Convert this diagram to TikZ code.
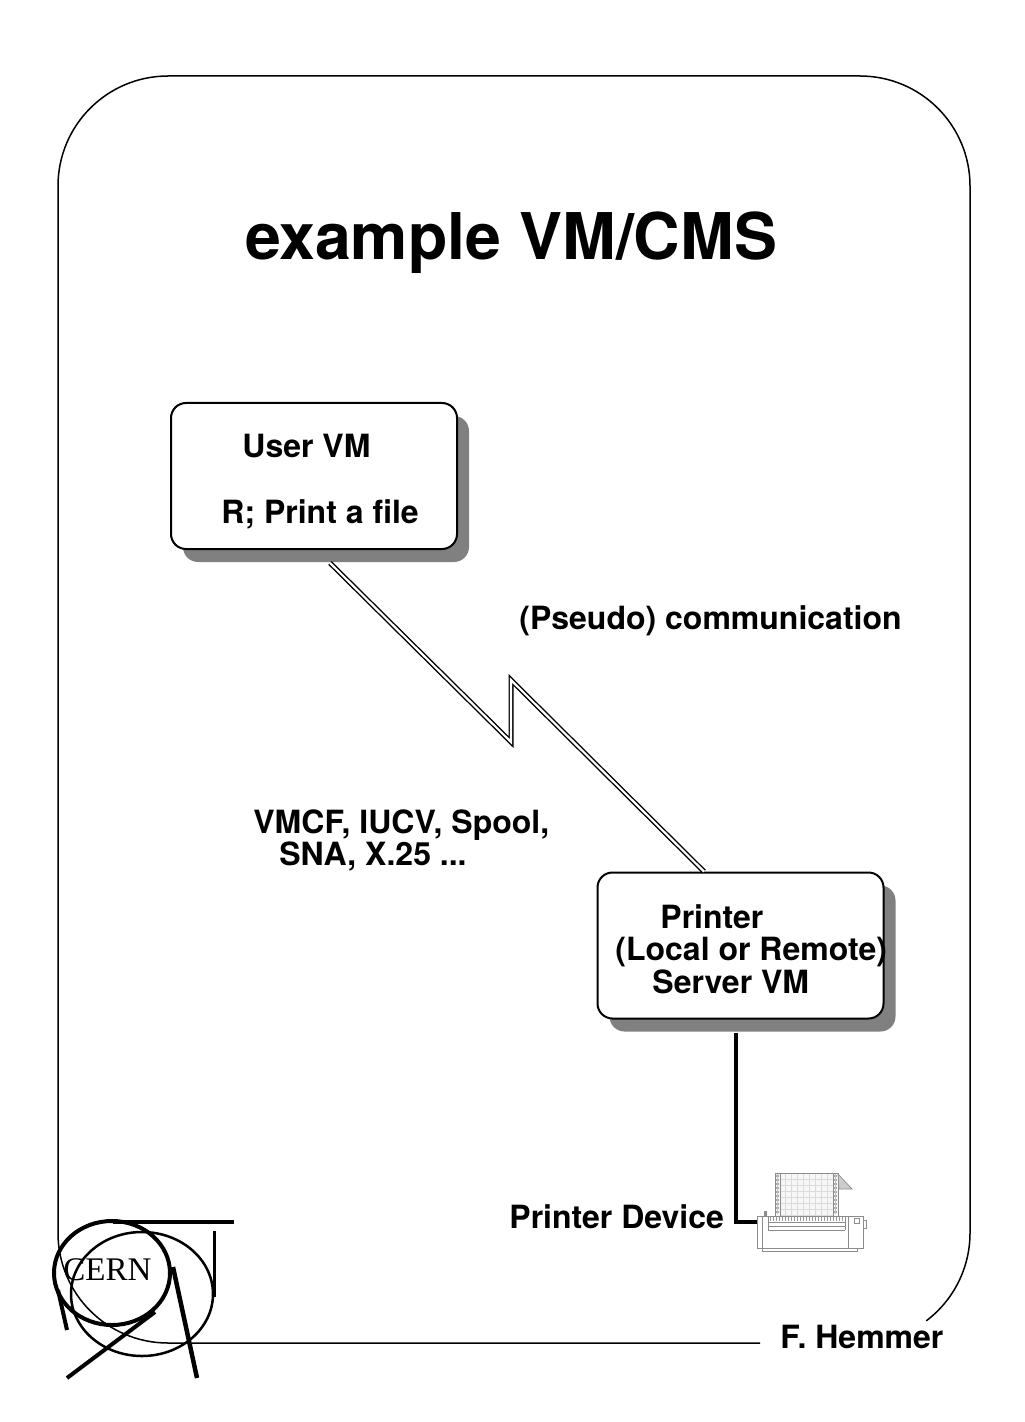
\documentclass[tikz,border=0pt]{standalone}
\usepackage{fontspec}
\setmainfont{TeX Gyre Heros}
\newfontfamily\cernfont{Liberation Serif}
\usetikzlibrary{shadows}
\begin{document}
\begin{tikzpicture}[x=0.5pt,y=-0.5pt,
  lbl/.style={font=\fontsize{16}{17}\selectfont\bfseries, inner sep=0pt, anchor=base west},
  titlelbl/.style={font=\fontsize{32.2}{34}\selectfont\bfseries, inner sep=0pt, anchor=base west},
  vmbox/.style={draw, line width=1pt, rounded corners=7.5pt, fill=white,
    minimum width=143pt, minimum height=73pt, inner sep=0pt,
    drop shadow={shadow xshift=6pt, shadow yshift=-6.5pt, fill=black!50, opacity=1}},
  frameline/.style={line width=0.75pt},
  dbl/.style={double=white, double distance=1.1pt, line width=0.7pt},
  thick link/.style={line width=1.75pt},
  dev/.style={draw=black!45, line width=0.35pt},
  logo/.style={line width=2pt}]
\useasboundingbox (0,0) rectangle (1024,1422);

% frame
\draw[frameline] (760,1343) -- (168,1343) arc[start angle=270, end angle=180, radius=55pt]
  -- (58,186) arc[start angle=180, end angle=90, radius=55pt]
  -- (860,76) arc[start angle=90, end angle=0, radius=55pt]
  -- (970,1233) arc[start angle=0, end angle=-53, radius=55pt];

% title
\node[titlelbl] (title) at (245,260) {example VM/CMS};

% boxes
\node[vmbox] (ubox) at (314,476) {};
\node[vmbox] (pbox) at (740.5,945.5) {};

\node[lbl] (u1) at (242,458) {User VM};
\node[lbl] (u2) at (221,523) {R; Print a file};
\node[lbl] (p1) at (660,928) {Printer};
\node[lbl] (p2) at (615,960) {(Local or Remote)};
\node[lbl] (p3) at (652,993) {Server VM};

% communication link
\coordinate (z1) at (511,742);
\coordinate (z2) at (511,680);
\draw[dbl] ([xshift=8pt,yshift=-6.5pt]ubox.south) -- (z1) -- (z2) -- ([xshift=-18.25pt]pbox.north);

\node[lbl] (pseudo) at (519,629) {(Pseudo) communication};
\node[lbl] (vmcf) at (253,833) {VMCF, IUCV, Spool,};
\node[lbl] (sna) at (279,865) {SNA, X.25 ...};

% printer device
\coordinate (devin) at (759,1222);
\coordinate (bend) at (736,1222);
\draw[thick link] ([xshift=-2.25pt,yshift=-6.5pt]pbox.south) -- (bend) -- (devin);
\node[lbl] (devlbl) at (509,1228) {Printer Device};

% printer icon
\fill[black!3] (775,1173) rectangle (838,1216);
\foreach \gx in {785,791,...,833} \draw[black!14, line width=0.25pt] (\gx,1173) -- (\gx,1216);
\foreach \gy in {1179,1185,...,1215} \draw[black!14, line width=0.25pt] (780,\gy) -- (833,\gy);
\draw[dev] (775,1173) rectangle (838,1216);
\draw[dev] (780,1173) -- (780,1216) (833,1173) -- (833,1216);
\foreach \gy in {1176,1180,...,1214} {\draw[black!45, line width=0.25pt] (777.5,\gy) circle[radius=0.6pt]; \draw[black!45, line width=0.25pt] (835.5,\gy) circle[radius=0.6pt];}
\filldraw[dev, fill=black!20] (838,1174) -- (852,1189) -- (839,1189) -- cycle;
\filldraw[dev, fill=white] (757,1216) rectangle (863,1248);
\draw[dev] (762,1216) -- (762,1248) (848,1216) -- (848,1248);
\draw[dev] (768,1216) rectangle (845,1222);
\foreach \gx in {770,773,...,843} \draw[black!40, line width=0.25pt] (\gx,1217) -- (\gx,1221);
\draw[dev] (768,1226) -- (845,1226) (768,1230) -- (845,1230);
\draw[dev] (768,1222) -- (768,1230) (845,1222) -- (845,1230);
\draw[dev] (854,1218) rectangle (859,1223);
\draw[dev] (863,1220) rectangle (866,1228);
\draw[dev] (762,1248) rectangle (857,1251);
\fill[black!45] (764,1211) rectangle (767,1216);

% author
\node[lbl] (author) at (780,1348) {F. Hemmer};

% CERN logo
\draw[logo] (112,1273) ellipse[x radius=29pt, y radius=26pt];
\draw[line width=1.25pt] (142,1294) ellipse[x radius=35.5pt, y radius=31pt];
\draw[logo] (113,1222) -- (234,1222);
\draw[line width=1.5pt] (214,1231) -- (214,1297);
\draw[line width=2.25pt] (173,1267) -- (197,1378);
\draw[logo] (67,1378) -- (155,1312);
\draw[logo] (58,1290) -- (67,1330);
\node[font=\cernfont\fontsize{16.5}{17}\selectfont, inner sep=0pt, anchor=base west] (cern) at (63,1280) {CERN};
\end{tikzpicture}
\end{document}
